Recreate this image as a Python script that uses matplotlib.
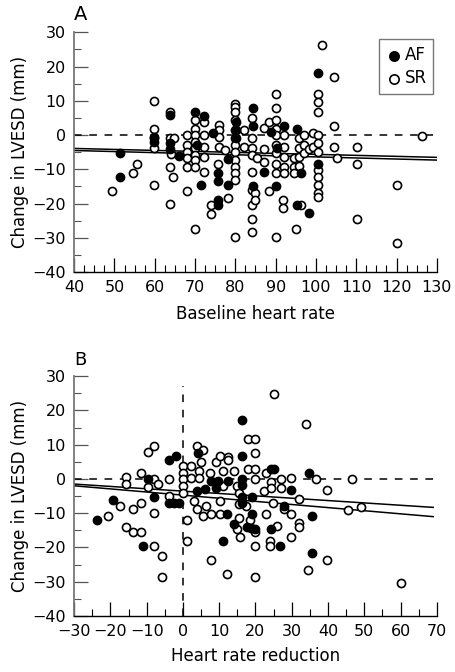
import numpy as np
import matplotlib.pyplot as plt

# ---- panel A: baseline heart rate vs change in LVESD ----
a_af_x = [51.4, 51.4, 59.7, 59.7, 63.8, 63.8, 63.8, 69.9, 72.1, 71.6, 75.7, 75.7, 75.7, 75.7,
          78.2, 78.2, 80.2, 80.2, 80.2, 84.4, 84.4, 84.4, 87.1, 90.0, 90.4, 88.8, 92.2, 95.4,
          95.2, 96.2, 98.3, 100.5, 100.5, 66.0, 70.5, 74.5]
a_af_y = [-5.1, -12.1, -0.5, -2.0, 6.0, -2.4, -4.0, 6.8, 5.6, -14.6, -11.0, -13.4, -19.0, -20.4,
          -7.1, -14.6, 3.9, 1.5, -1.0, 7.8, 2.6, -15.0, -10.7, -15.0, -3.9, 1.0, 2.6, 1.7,
          -20.4, -11.2, -22.6, 18.0, -8.4, -6.0, -3.0, 0.5]

a_sr_x = [49.5, 54.5, 55.5, 59.7, 59.7, 59.7, 59.7, 59.7, 63.8, 63.8, 63.8, 63.8, 64.6, 64.8, 64.0,
          67.9, 67.9, 67.9, 67.9, 67.9, 67.9, 69.9,
          70.0, 70.0, 70.0, 70.0, 70.0, 70.0, 70.0, 70.0,
          72.1, 72.1, 72.1, 72.1, 72.1, 73.9, 73.9,
          76.0, 76.0, 76.0, 76.0, 75.7, 78.2, 77.5,
          80.0, 80.0, 80.0, 80.0, 80.0, 80.0, 80.0, 80.0, 80.0, 80.0, 80.0, 80.0, 80.0,
          82.1, 82.1,
          84.2, 84.2, 84.2, 84.2, 84.2, 84.2, 84.2, 84.2, 84.2, 85.0, 85.0, 85.3,
          87.1, 87.1, 87.1, 88.3, 88.3,
          90.0, 90.0, 90.0, 90.0, 90.0, 90.0, 90.0, 90.0, 90.0, 90.0,
          92.0, 92.0, 92.0, 92.0, 92.0, 91.9, 91.9,
          94.5, 94.5, 94.5, 95.0, 96.2, 95.8, 95.8, 95.8, 95.8,
          97.0, 97.0, 97.0, 98.3, 99.3, 99.3,
          100.5, 100.5, 100.5, 100.5, 100.5, 100.5, 100.5, 100.5, 100.5, 100.5, 100.5,
          101.6, 104.6, 104.6, 104.6, 105.3, 110.2, 110.2, 110.2, 120.2, 120.2, 126.4]
a_sr_y = [-16.2, -11.2, -8.3, 9.9, 1.9, -1.0, -3.9, -14.6, 6.8, -1.0, -9.2, -20.2, -12.1, -1.0, -5.5,
          0.0, -2.9, -4.9, -6.8, -9.2, -16.2, -27.4,
          4.4, 1.9, 0.0, -1.9, -3.9, -5.8, -7.3, -9.2,
          3.9, 0.0, -3.4, -6.3, -10.7, -20.4, -23.1,
          2.9, 1.5, -0.5, -3.4, -8.3, -18.4, -4.5,
          9.2, 8.3, 6.8, 4.4, 1.5, -1.0, -2.9, -4.9, -7.3, -9.2, -11.2, -13.1, -29.6,
          1.5, -3.4,
          4.9, -1.0, -3.9, -5.8, -10.7, -16.0, -20.4, -24.5, -28.3, -17.0, -18.9, -6.8,
          2.0, -4.0, -8.0, 3.9, -16.2,
          12.1, 7.8, 4.4, 1.9, 0.0, -2.9, -5.3, -8.3, -11.2, -29.6,
          0.0, -3.4, -6.3, -9.2, -11.2, -18.9, -21.4,
          -6.8, -9.2, -11.2, -27.4, -20.4, -1.0, -3.9, -6.3, -9.0,
          0.0, -2.9, -5.3, -4.0, 0.7, -3.4,
          12.1, 9.7, 6.8, 0.0, -2.4, -4.9, -10.2, -12.1, -14.6, -17.0, -18.0,
          26.2, 16.8, 2.6, -3.6, -6.8, -3.6, -8.3, -24.5, -14.6, -31.6, -0.3]

# fitted lines (end points)
a_fit_x = [40, 130]
a_fit1_y = [-3.9, -6.5]
a_fit2_y = [-4.5, -7.3]

# ---- panel B: heart rate reduction vs change in LVESD ----
b_af_x = [-23.8, -19.4, -10.9, -9.6, -8.0, -3.8, -2.0, -3.8, -2.5, -1.1, 4.2, 4.0, 7.8, 9.7,
          11.0, 12.1, 14.1, 16.2, 16.2, 16.2, 16.2, 16.2, 16.2, 17.7, 18.8, 20.0, 19.1, 19.1,
          24.2, 25.1, 24.2, 26.8, 27.9, 29.9, 34.7, 35.7, 35.5, 9.0, 12.5, 6.0]
b_af_y = [-11.9, -6.1, -19.7, 0.0, -5.2, 5.4, 6.7, -6.9, -6.9, -6.9, 7.7, -3.5, -0.6, -0.6,
          -18.1, -10.3, -13.2, 17.1, 6.7, 0.0, -1.9, -5.4, -6.9, -14.0, -14.3, -14.6, -5.4, -10.3,
          2.8, 2.8, -14.7, -19.7, -7.9, -3.2, 1.7, -10.8, -21.7, -2.5, -0.5, -3.0]

b_sr_x = [-20.8, -17.4, -15.8, -15.8, -15.8, -13.7, -13.7, -11.6, -11.6, -11.6, -9.6, -8.0,
          -9.6, -8.0, -8.0, -8.0, -6.8, -5.9, -5.9, -3.8, -3.8,
          0.0, 0.0, 0.0, 0.0, 0.0, 1.0, 1.0, 2.1, 2.1,
          4.0, 5.4, 5.0, 4.5, 4.5, 3.0, 4.0, 5.4, 6.3,
          7.8, 7.8, 7.5, 9.0, 10.1, 10.1, 10.1, 11.0, 11.0, 12.1, 12.4, 12.4,
          14.1, 15.0, 15.5, 15.5, 15.5, 15.0, 15.6, 18.0, 20.0, 20.0, 18.0, 20.0, 20.0,
          19.9, 19.9, 19.9, 17.5, 18.5,
          22.3, 23.0, 24.2, 24.2, 25.1, 24.8, 23.0, 25.8, 24.0, 24.0,
          27.0, 27.0, 28.0, 29.9, 29.9, 29.9, 32.0, 32.0, 32.0,
          34.0, 34.6, 36.8, 39.8, 39.8, 45.5, 46.7, 49.2, 60.0]
b_sr_y = [-10.8, -7.9, 0.6, -1.4, -13.9, -8.8, -15.6, -15.6, 1.8, -6.9, 7.9, 9.6,
          -2.3, -0.1, -10.0, -19.7, -1.4, -22.6, -28.7, -0.1, -5.0,
          3.8, 1.8, -0.1, -2.0, -4.0, -11.9, -18.1, 3.8, 0.4,
          9.6, 8.4, 4.8, 2.4, 0.4, -6.4, -8.8, -10.7, -7.8,
          -23.7, -10.3, 1.8, 4.8, 6.7, -6.4, -10.3, 2.3, -2.0, -27.6, 6.5, 5.5,
          2.3, -2.0, -4.0, -7.4, -11.3, -14.7, -16.9, 11.6, 11.6, 7.7, 2.8, 2.8, -0.1,
          -19.7, -28.7, -15.6, -8.0, -12.0,
          -3.5, 1.8, -1.0, -2.5, 24.9, -6.9, -10.3, -13.6, -18.1, -19.7,
          -0.1, -2.5, -8.8, -10.3, 0.4, -16.8, -5.9, -13.0, -14.0,
          16.1, -26.6, -0.1, -3.3, -23.7, -9.1, -0.1, -8.2, -30.4]

b_fit_x = [-30, 69]
b_fit1_y = [-1.5, -8.3]
b_fit2_y = [-2.0, -11.0]

plt.rcParams['font.family'] = ['DejaVu Sans']

fig = plt.figure(figsize=(4.55, 6.72), dpi=100)
ax_a = fig.add_axes([0.163, 0.595, 0.797, 0.357])
ax_b = fig.add_axes([0.163, 0.0833, 0.797, 0.357])


def style_axis(ax, xlo, xhi, xmajor, xminor):
    ax.set_xlim(xlo, xhi)
    ax.set_ylim(-40, 30)
    ax.set_xticks(np.arange(xlo, xhi + 1, xmajor))
    ax.set_xticks(np.arange(xlo, xhi + 0.1, xminor), minor=True)
    ax.set_yticks(np.arange(-40, 31, 10))
    ax.set_yticks(np.arange(-40, 31, 5), minor=True)
    ax.spines['top'].set_visible(False)
    ax.spines['right'].set_visible(False)
    ax.spines['left'].set_color('#777777')
    ax.spines['left'].set_linewidth(1.3)
    ax.spines['bottom'].set_linewidth(1.0)
    ax.tick_params(which='major', direction='in', length=10, width=0.9, labelsize=11.5, pad=6)
    ax.tick_params(which='minor', direction='in', length=5, width=0.8)
    ax.tick_params(axis='y', which='both', color='#555555')
    ax.set_ylabel('Change in LVESD (mm)', fontsize=12)
    ax.yaxis.set_label_coords(-0.125, 0.5)


# panel A
style_axis(ax_a, 40, 130, 10, 2.5)
ax_a.axhline(0, color='black', lw=1.1, ls=(0, (5, 5)))
ax_a.plot(a_fit_x, a_fit1_y, color='black', lw=1.1)
ax_a.plot(a_fit_x, a_fit2_y, color='black', lw=1.1)
sr_a = ax_a.scatter(a_sr_x, a_sr_y, s=34, facecolors='white', edgecolors='black', linewidths=1.2, zorder=3)
af_a = ax_a.scatter(a_af_x, a_af_y, s=34, facecolors='black', edgecolors='black', linewidths=1.2, zorder=4)
ax_a.set_xlabel('Baseline heart rate', fontsize=12)
ax_a.xaxis.set_label_coords(0.5, -0.135)
leg = ax_a.legend([af_a, sr_a], ['AF', 'SR'], loc='upper right', bbox_to_anchor=(0.99, 0.97),
                  fontsize=12, frameon=True, fancybox=False, handletextpad=0.1,
                  borderpad=0.4, handlelength=1.0, labelspacing=0.3, borderaxespad=0,
                  markerscale=1.15)
leg.get_frame().set_edgecolor('#555555')
leg.get_frame().set_linewidth(1.0)
ax_a.text(0.0, 1.035, 'A', transform=ax_a.transAxes, fontsize=14, va='bottom', ha='left')

# panel B
style_axis(ax_b, -30, 70, 10, 5)
ax_b.plot([-30, 70], [0, 0], color='black', lw=1.1, ls=(0, (5, 5)))
ax_b.plot([0, 0], [-40, 27], color='black', lw=1.1, ls=(0, (5, 5)))
ax_b.plot(b_fit_x, b_fit1_y, color='black', lw=1.1)
ax_b.plot(b_fit_x, b_fit2_y, color='black', lw=1.1)
ax_b.scatter(b_sr_x, b_sr_y, s=34, facecolors='white', edgecolors='black', linewidths=1.2, zorder=3)
ax_b.scatter(b_af_x, b_af_y, s=34, facecolors='black', edgecolors='black', linewidths=1.2, zorder=4)
ax_b.set_xlabel('Heart rate reduction', fontsize=12)
ax_b.xaxis.set_label_coords(0.5, -0.13)
ax_b.text(0.0, 1.03, 'B', transform=ax_b.transAxes, fontsize=13, va='bottom', ha='left')

fig.savefig('out.png', dpi=100)
